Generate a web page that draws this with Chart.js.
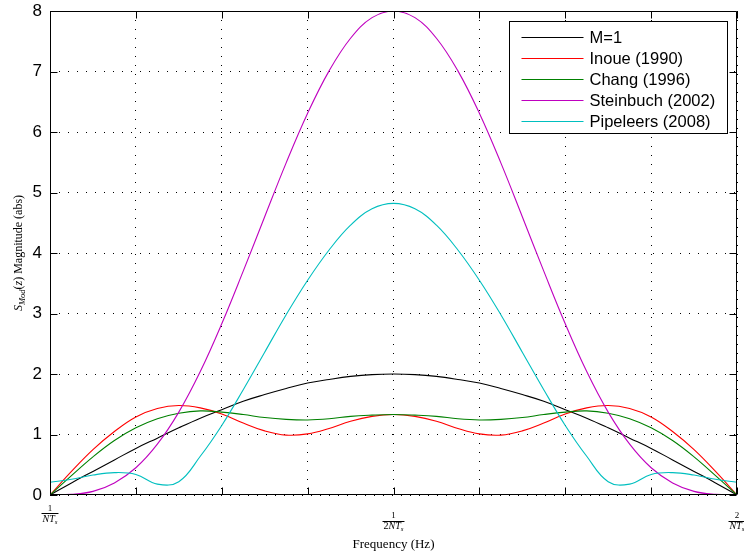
<!DOCTYPE html>
<html>
<head>
<meta charset="utf-8">
<script src="https://cdn.jsdelivr.net/npm/chart.js@4/dist/chart.umd.min.js"></script>
<style>
  html, body { margin: 0; padding: 0; background: #fff; }
  #wrap { width: 744px; height: 558px; }
</style>
</head>
<body>
<div id="wrap"><canvas id="c" width="744" height="558"></canvas></div>
<script>
// Frequency in units of 1/(N*Ts)
const freq = [1, 1.03125, 1.0625, 1.09375, 1.125, 1.15625, 1.1875, 1.21875, 1.25,
  1.28125, 1.3125, 1.34375, 1.375, 1.40625, 1.4375, 1.46875, 1.5,
  1.53125, 1.5625, 1.59375, 1.625, 1.65625, 1.6875, 1.71875, 1.75,
  1.78125, 1.8125, 1.84375, 1.875, 1.90625, 1.9375, 1.96875, 2];

const seriesNames = ['M=1', 'Inoue (1990)', 'Chang (1996)', 'Steinbuch (2002)', 'Pipeleers (2008)'];
const seriesColors = ['#000000', '#ff0000', '#008000', '#bf00bf', '#00bfbf'];

// |S_Mod| magnitude per design
const magM1 = [0, 0.20, 0.39, 0.58, 0.77, 0.94, 1.11, 1.27, 1.41, 1.55, 1.66, 1.76, 1.85, 1.91, 1.96, 1.99, 2.00,
  1.99, 1.96, 1.91, 1.85, 1.76, 1.66, 1.55, 1.41, 1.27, 1.11, 0.94, 0.77, 0.58, 0.39, 0.20, 0];
const magInoue = [0, 0.39, 0.75, 1.05, 1.29, 1.43, 1.48, 1.44, 1.34, 1.19, 1.06, 0.99, 1.01, 1.10, 1.22, 1.30, 1.33,
  1.30, 1.22, 1.10, 1.01, 0.99, 1.06, 1.19, 1.34, 1.44, 1.48, 1.43, 1.29, 1.05, 0.75, 0.39, 0];
const magChang = [0, 0.32, 0.63, 0.90, 1.11, 1.26, 1.35, 1.39, 1.37, 1.33, 1.28, 1.25, 1.24, 1.26, 1.30, 1.32, 1.33,
  1.32, 1.30, 1.26, 1.24, 1.25, 1.28, 1.33, 1.37, 1.39, 1.35, 1.26, 1.11, 0.90, 0.63, 0.32, 0];
const magSteinbuch = [0, 0.01, 0.06, 0.20, 0.45, 0.84, 1.37, 2.04, 2.83, 3.70, 4.60, 5.49, 6.31, 7.01, 7.55, 7.89, 8.00,
  7.89, 7.55, 7.01, 6.31, 5.49, 4.60, 3.70, 2.83, 2.04, 1.37, 0.84, 0.45, 0.20, 0.06, 0.01, 0];
const magPipeleers = [0.21, 0.26, 0.33, 0.37, 0.34, 0.18, 0.22, 0.64, 1.15, 1.74, 2.36, 2.98, 3.55, 4.05, 4.46, 4.73, 4.82,
  4.73, 4.46, 4.05, 3.55, 2.98, 2.36, 1.74, 1.15, 0.64, 0.22, 0.18, 0.34, 0.37, 0.33, 0.26, 0.21];

// Axis labels
const xTickPos = [1, 1.5, 2];
const xTickNum = ['1', '1', '2'];
const xTickDen = ['NT', 'NT', 'NT'];
const xTickDenPrefix = ['', '2', ''];
const xTitle = 'Frequency (Hz)';
const yTitleParts = ['S', 'Mod', '(', 'z', ')', ' Magnitude (abs)'];

const allSeries = [magM1, magInoue, magChang, magSteinbuch, magPipeleers];

const datasets = allSeries.map((vals, i) => ({
  label: seriesNames[i],
  data: freq.map((f, j) => ({ x: f, y: vals[j] })),
  borderColor: seriesColors[i],
  backgroundColor: seriesColors[i],
  borderWidth: 1.1,
  pointRadius: 0,
  tension: 0.4,
  fill: false,
  order: allSeries.length - i
}));

const SERIF = '"Liberation Serif", "DejaVu Serif", serif';
const SANS = '"Liberation Sans", Arial, sans-serif';

// Box around the axes with inward tick marks on all four sides
const axesBox = {
  id: 'axesBox',
  afterDatasetsDraw(chart) {
    const { ctx, chartArea: a, scales } = chart;
    const L = Math.round(a.left) + 0.5, R = Math.round(a.right) - 0.5;
    const T = Math.round(a.top) + 0.5, B = Math.round(a.bottom) - 0.5;
    const len = 7;
    ctx.save();
    ctx.strokeStyle = '#000';
    ctx.lineWidth = 1;
    ctx.beginPath();
    ctx.rect(L, T, R - L, B - T);
    scales.x.ticks.forEach(t => {
      const px = Math.round(scales.x.getPixelForValue(t.value)) + 0.5;
      ctx.moveTo(px, B); ctx.lineTo(px, B - len);
      ctx.moveTo(px, T); ctx.lineTo(px, T + len);
    });
    scales.y.ticks.forEach(t => {
      const py = Math.round(scales.y.getPixelForValue(t.value)) + 0.5;
      ctx.moveTo(L, py); ctx.lineTo(L + len, py);
      ctx.moveTo(R, py); ctx.lineTo(R - len, py);
    });
    ctx.stroke();
    ctx.restore();
  }
};

// Fraction tick labels, axis titles and the boxed legend
const annotations = {
  id: 'annotations',
  afterDraw(chart) {
    const { ctx, chartArea: a, scales } = chart;
    ctx.save();
    ctx.fillStyle = '#000';
    ctx.strokeStyle = '#000';

    // fraction labels under the x axis
    xTickPos.forEach((pos, i) => {
      const cx = scales.x.getPixelForValue(pos);
      const barY = (i === 0 ? a.bottom + 18 : a.bottom + 25.5);
      const denFont = 'italic 10px ' + SERIF;
      const preFont = '10px ' + SERIF;
      const subFont = 'italic 7px ' + SERIF;
      ctx.font = preFont; const wp = ctx.measureText(xTickDenPrefix[i]).width;
      ctx.font = denFont; const wd = ctx.measureText(xTickDen[i]).width;
      ctx.font = subFont; const ws = ctx.measureText('s').width;
      const wTot = wp + wd + ws;
      let x = cx - wTot / 2;
      ctx.textBaseline = 'alphabetic';
      ctx.textAlign = 'left';
      ctx.font = preFont; ctx.fillText(xTickDenPrefix[i], x, barY + 8.5); x += wp;
      ctx.font = denFont; ctx.fillText(xTickDen[i], x, barY + 8.5); x += wd;
      ctx.font = subFont; ctx.fillText('s', x, barY + 10.5);
      ctx.lineWidth = 1;
      ctx.beginPath();
      ctx.moveTo(cx - wTot / 2 - 1, Math.round(barY) + 0.5);
      ctx.lineTo(cx + wTot / 2 + 1, Math.round(barY) + 0.5);
      ctx.stroke();
      ctx.font = '9px ' + SERIF;
      ctx.textAlign = 'center';
      ctx.fillText(xTickNum[i], cx, barY - 2.5);
    });

    // x axis title
    ctx.font = '13px ' + SERIF;
    ctx.textAlign = 'center';
    ctx.textBaseline = 'alphabetic';
    ctx.fillText(xTitle, (a.left + a.right) / 2, 548);

    // y axis title, rotated
    ctx.save();
    ctx.translate(21.5, (a.top + a.bottom) / 2);
    ctx.rotate(-Math.PI / 2);
    const fonts = ['italic 12px ' + SERIF, 'italic 8.5px ' + SERIF, '12px ' + SERIF,
                   'italic 12px ' + SERIF, '12px ' + SERIF, '12px ' + SERIF];
    const dys = [0, 3, 0, 0, 0, 0];
    let widths = yTitleParts.map((p, k) => { ctx.font = fonts[k]; return ctx.measureText(p).width; });
    const total = widths.reduce((s, w) => s + w, 0);
    let x = -total / 2;
    ctx.textAlign = 'left';
    yTitleParts.forEach((p, k) => {
      ctx.font = fonts[k];
      ctx.fillText(p, x, dys[k]);
      x += widths[k];
    });
    ctx.restore();

    // legend box in the upper right of the axes
    const bx = Math.round(a.right) - 228 + 0.5, by = Math.round(a.top) + 10.5;
    const bw = 218, bh = 112;
    ctx.fillStyle = '#fff';
    ctx.fillRect(bx, by, bw, bh);
    ctx.lineWidth = 1;
    ctx.strokeStyle = '#000';
    ctx.strokeRect(bx, by, bw, bh);
    ctx.font = '16.5px ' + SANS;
    ctx.textAlign = 'left';
    ctx.textBaseline = 'middle';
    chart.data.datasets.forEach((ds, k) => {
      const ry = Math.round(by + 15 + k * 21) + 0.5;
      ctx.strokeStyle = ds.borderColor;
      ctx.lineWidth = 1.1;
      ctx.beginPath();
      ctx.moveTo(bx + 12, ry);
      ctx.lineTo(bx + 74, ry);
      ctx.stroke();
      ctx.fillStyle = '#000';
      ctx.fillText(ds.label, bx + 80, ry + 0.5);
    });
    ctx.restore();
  }
};

new Chart(document.getElementById('c'), {
  type: 'line',
  data: { datasets },
  options: {
    responsive: false,
    animation: false,
    devicePixelRatio: 1,
    layout: { padding: { top: 11, right: 7, left: 0, bottom: 0 } },
    plugins: { legend: { display: false }, tooltip: { enabled: false } },
    scales: {
      x: {
        type: 'linear',
        min: 1, max: 2,
        afterFit: s => { s.height = 63; s.paddingLeft = 0; s.paddingRight = 0; },
        ticks: { stepSize: 0.125, callback: () => '', padding: 0 },
        grid: { color: '#000', lineWidth: 1, drawTicks: false },
        border: { display: false, dash: [1, 8] }
      },
      y: {
        min: 0, max: 8,
        afterFit: s => { s.width = 50; s.paddingTop = 0; s.paddingBottom = 0; },
        ticks: { stepSize: 1, color: '#000', padding: 8, font: { family: SANS, size: 17 } },
        grid: { color: '#000', lineWidth: 1, drawTicks: false },
        border: { display: false, dash: [1, 8] }
      }
    }
  },
  plugins: [axesBox, annotations]
});
</script>
</body>
</html>
